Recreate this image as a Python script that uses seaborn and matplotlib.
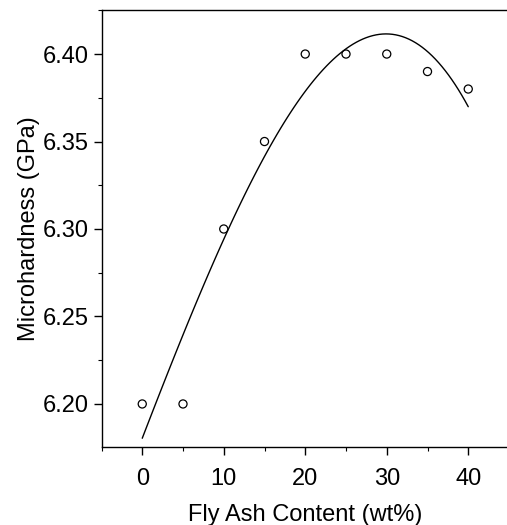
import matplotlib
matplotlib.use("Agg")
import matplotlib.pyplot as plt
import seaborn as sns
import pandas as pd
from matplotlib.ticker import MultipleLocator, FormatStrFormatter

fly_ash = [0, 5, 10, 15, 20, 25, 30, 35, 40]
hardness = [6.20, 6.20, 6.30, 6.35, 6.40, 6.40, 6.40, 6.39, 6.38]
x_ticks = [0, 10, 20, 30, 40]
y_ticks = [6.20, 6.25, 6.30, 6.35, 6.40]

df = pd.DataFrame({"x": fly_ash, "y": hardness})

sns.set_style("ticks")
plt.rcParams["font.family"] = ["Liberation Sans", "DejaVu Sans"]
plt.rcParams["axes.labelcolor"] = "black"
plt.rcParams["text.color"] = "black"

fig = plt.figure(figsize=(5.07, 5.25), dpi=100)
ax = fig.add_axes([101.5 / 507, 78 / 525, 407.5 / 507, 436.7 / 525])

sns.regplot(data=df, x="x", y="y", order=3, ci=None, scatter=False,
            line_kws={"color": "black", "lw": 1.0}, ax=ax)
sns.scatterplot(data=df, x="x", y="y", marker="o", s=34,
                facecolors="none", edgecolor="black", linewidth=0.9, ax=ax)

ax.set_xlim(-5, 45)
ax.set_ylim(6.1754, 6.425)
ax.set_xticks(x_ticks)
ax.set_yticks(y_ticks)
ax.xaxis.set_minor_locator(MultipleLocator(5))
ax.yaxis.set_minor_locator(MultipleLocator(0.025))
ax.yaxis.set_major_formatter(FormatStrFormatter("%.2f"))

ax.tick_params(axis="both", which="major", direction="out", length=6,
               width=1.0, labelsize=17, colors="black", labelcolor="black")
ax.tick_params(axis="x", which="major", pad=9)
ax.tick_params(axis="y", which="major", pad=3)
ax.tick_params(axis="both", which="minor", direction="out", length=3,
               width=0.8, colors="black")

for side in ["left", "bottom", "top"]:
    ax.spines[side].set_visible(True)
    ax.spines[side].set_linewidth(1.0)
    ax.spines[side].set_color("black")
ax.spines["right"].set_visible(False)

ax.set_xlabel("Fly Ash Content (wt%)", fontsize=17, labelpad=10, color="black")
ax.set_ylabel("Microhardness (GPa)", fontsize=17, labelpad=2, color="black")

fig.savefig("out.png", dpi=100)
